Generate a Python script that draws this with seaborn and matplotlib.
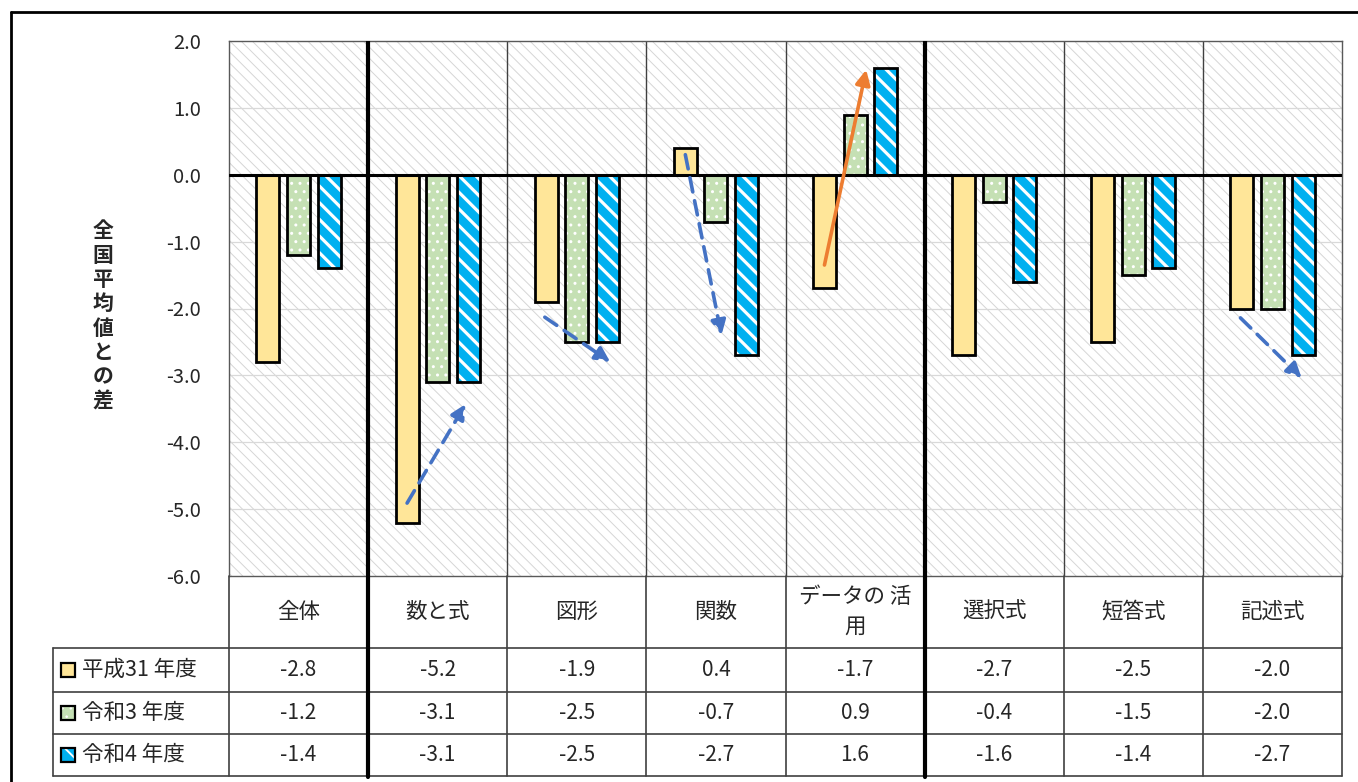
import matplotlib
matplotlib.use('Agg')
import matplotlib.pyplot as plt
from matplotlib.patches import Rectangle
from matplotlib.lines import Line2D
import seaborn as sns
import pandas as pd

# data
categories = ['全体', '数と式', '図形', '関数', 'データの活用', '選択式', '短答式', '記述式']
cat_labels = ['全体', '数と式', '図形', '関数', 'データの 活\n用', '選択式', '短答式', '記述式']
years = ['平成31 年度', '令和3 年度', '令和4 年度']
h31 = [-2.8, -5.2, -1.9, 0.4, -1.7, -2.7, -2.5, -2.0]
r3 = [-1.2, -3.1, -2.5, -0.7, 0.9, -0.4, -1.5, -2.0]
r4 = [-1.4, -3.1, -2.5, -2.7, 1.6, -1.6, -1.4, -2.7]
yticks = [2.0, 1.0, 0.0, -1.0, -2.0, -3.0, -4.0, -5.0, -6.0]

# trend arrows: (x0, y0, x1, y1, colour, dashed)
arrows = [
    (0.78, -4.91, 1.20, -3.43, '#4472C4', True),
    (1.77, -2.13, 2.24, -2.80, '#4472C4', True),
    (2.78, 0.30, 3.04, -2.40, '#4472C4', True),
    (3.78, -1.35, 4.08, 1.57, '#ED7D31', False),
    (6.77, -2.14, 7.21, -3.04, '#4472C4', True),
]

yellow, green, blue = '#FFE699', '#C5E0B4', '#00B0F0'

sns.set_theme(style='white')
plt.rcParams['font.family'] = ['Noto Sans CJK JP', 'DejaVu Sans']

W, H = 1358, 782
fig = plt.figure(figsize=(W / 100, H / 100), dpi=100)

def fx(px):
    return px / W

def fy(py):
    return 1 - py / H

ax = fig.add_axes([fx(229), fy(576), fx(1342 - 229), (576 - 41) / H])

df = pd.DataFrame({
    'cat': categories * 3,
    'year': [years[0]] * 8 + [years[1]] * 8 + [years[2]] * 8,
    'val': h31 + r3 + r4,
})
sns.barplot(data=df, x='cat', y='val', hue='year', order=categories,
            hue_order=years, width=0.66, gap=0.25, errorbar=None,
            legend=False, ax=ax, zorder=3)

# background hatch
bg = Rectangle((0, 0), 1, 1, transform=ax.transAxes, facecolor='white',
               edgecolor='#D6D6D6', hatch='\\\\\\', lw=0, zorder=0)
if hasattr(bg, 'set_hatch_linewidth'):
    bg.set_hatch_linewidth(0.7)
ax.add_patch(bg)


def style_patch(p, face, hatch=None, hlw=1.0):
    p.set_facecolor(face)
    p.set_linewidth(0)
    if hatch:
        p.set_edgecolor('white')
        p.set_hatch(hatch)
        if hasattr(p, 'set_hatch_linewidth'):
            p.set_hatch_linewidth(hlw)
    else:
        p.set_edgecolor(face)


styles = [(yellow, None, 1.0), (green, '..', 1.0), (blue, '\\\\', 2.3)]
for cont, (face, hatch, hlw) in zip(ax.containers, styles):
    for bar in cont:
        style_patch(bar, face, hatch, hlw)
        ax.add_patch(Rectangle(bar.get_xy(), bar.get_width(), bar.get_height(),
                               facecolor='none', edgecolor='black', lw=2.0,
                               zorder=4))

ax.set_xlim(-0.5, 7.5)
ax.set_ylim(-6, 2)
ax.set_yticks(yticks)
ax.set_yticklabels([f'{v:.1f}' for v in yticks], fontsize=14.5, color='#262626')
ax.tick_params(axis='y', length=0, pad=20)
ax.set_xticks([])
ax.set_xlabel('')
ax.set_ylabel('')
for v in yticks:
    if v not in (0.0, 2.0, -6.0):
        ax.axhline(v, color='#D9D9D9', lw=0.9, zorder=1)
ax.axhline(0, color='black', lw=2.2, zorder=5)
for s in ax.spines.values():
    s.set_color('#595959')
    s.set_linewidth(1.0)

thin_bounds = [1.5, 2.5, 3.5, 5.5, 6.5]
thick_bounds = [0.5, 4.5]
for b in thin_bounds:
    ax.axvline(b, color='#404040', lw=1.0, zorder=2)
for b in thick_bounds:
    ax.axvline(b, color='black', lw=3.0, zorder=6)

for x0, y0, x1, y1, col, dashed in arrows:
    ax.annotate('', xy=(x1, y1), xytext=(x0, y0), zorder=7,
                arrowprops=dict(arrowstyle='-|>', color=col, lw=2.6,
                                linestyle=(0, (4, 2.5)) if dashed else '-',
                                mutation_scale=22, shrinkA=0, shrinkB=0))

# y axis label, stacked upright characters
fig.text(fx(103), fy(316), '\n'.join('全国平均値との差'), ha='center', va='center',
         fontsize=15, fontweight='bold', linespacing=1.2)

# data table under the plot
x_left = -0.5 - (229 - 53) / 139.125
tab = fig.add_axes([fx(53), fy(776), fx(1342 - 53), (776 - 576) / H])
tab.set_xlim(x_left, 7.5)
tab.set_ylim(776, 576)
tab.axis('off')

row_y = [670, 713, 755]
for yb in [648, 692, 734, 776]:
    tab.plot([x_left, 7.5], [yb, yb], color='#404040', lw=1.2, clip_on=False)
tab.plot([x_left, x_left], [648, 776], color='#404040', lw=1.2, clip_on=False)
for b in [-0.5, 7.5] + thin_bounds:
    tab.plot([b, b], [576, 776], color='#404040', lw=1.2, clip_on=False)
for b in thick_bounds:
    tab.plot([b, b], [576, 777], color='black', lw=3.0, clip_on=False)

for i, lab in enumerate(cat_labels):
    tab.text(i, 612, lab, ha='center', va='center', fontsize=15.5,
             color='#262626', linespacing=1.45)

for vals, yy in zip([h31, r3, r4], row_y):
    for i, v in enumerate(vals):
        tab.text(i, yy, f'{v:.1f}', ha='center', va='center', fontsize=15,
                 color='#262626')

# legend keys in the first column
key_w = 14 / 139.125
for (face, hatch, hlw), yy, name in zip(styles, row_y, years):
    kx = x_left + 8 / 139.125
    k = Rectangle((kx, yy + 7), key_w, -14, facecolor=face, lw=0, zorder=3)
    style_patch(k, face, hatch, hlw * 0.6)
    tab.add_patch(k)
    tab.add_patch(Rectangle((kx, yy + 7), key_w, -14, facecolor='none',
                            edgecolor='black', lw=1.6, zorder=4))
    tab.text(x_left + 29 / 139.125, yy, name, ha='left', va='center',
             fontsize=15.5, color='#262626')

# outer chart border (left and top visible)
fig.add_artist(Line2D([fx(11), fx(11)], [fy(12), 0], color='black', lw=2))
fig.add_artist(Line2D([fx(11), 1], [fy(12), fy(12)], color='black', lw=2))

fig.savefig('out.png', dpi=100)
